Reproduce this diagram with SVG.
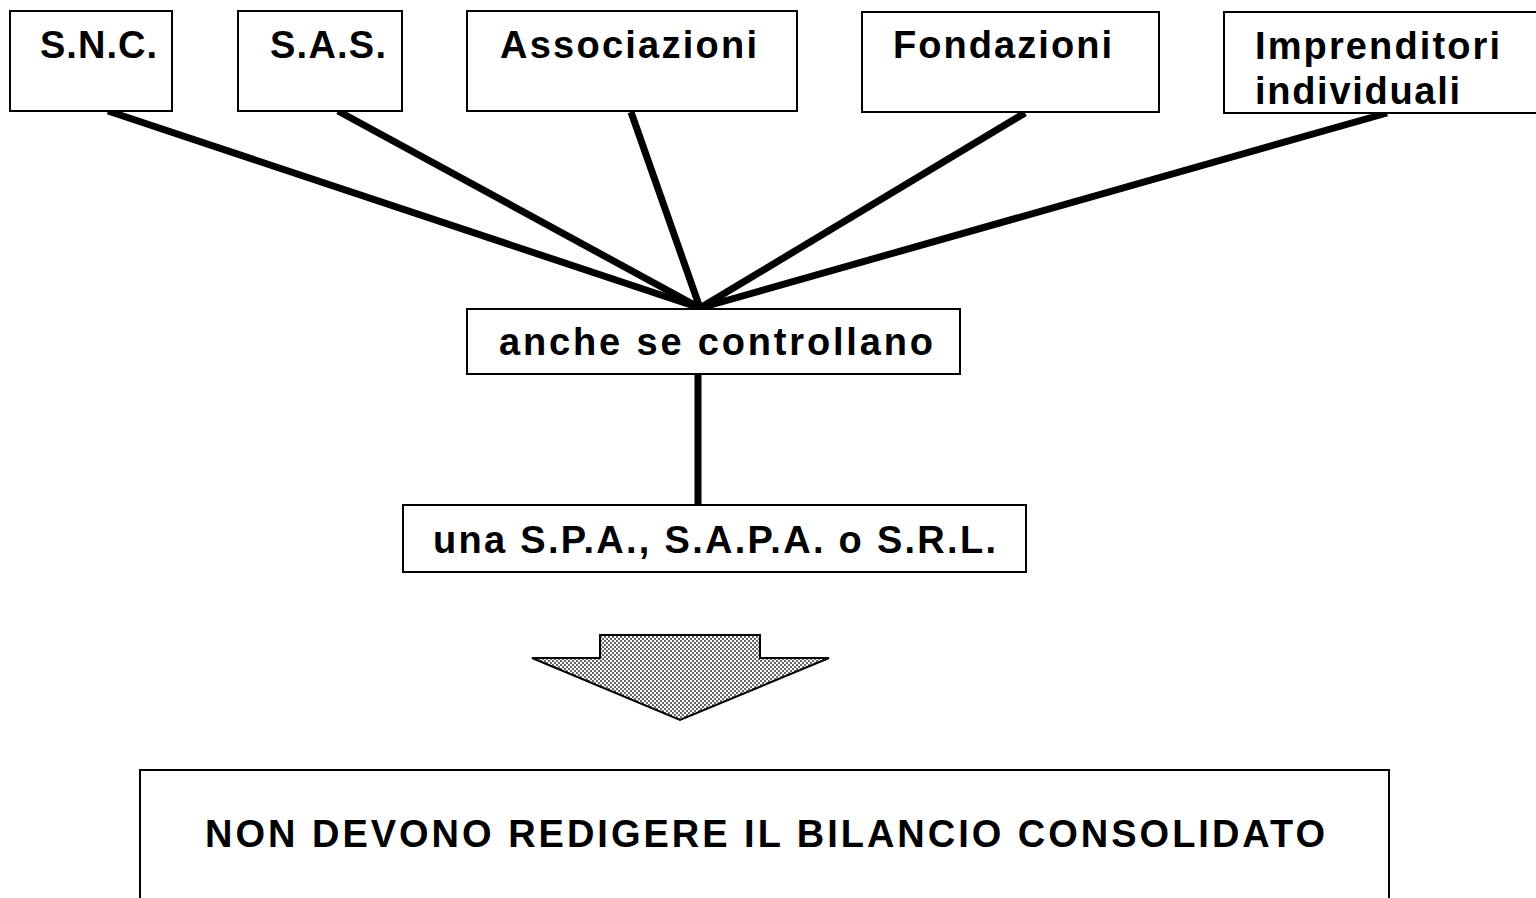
<svg xmlns="http://www.w3.org/2000/svg" width="1536" height="898" viewBox="0 0 1536 898">
<style>
.box{fill:#fff;stroke:#000;stroke-width:2}
.t{font-family:"Liberation Sans",Arial,sans-serif;font-size:38px;font-weight:bold;fill:#000}
.c{stroke:#000;stroke-width:7;stroke-linecap:butt;fill:none}
</style>
<defs>
<pattern id="dots" width="4" height="4" patternUnits="userSpaceOnUse">
<rect width="4" height="4" fill="#fff"/>
<rect x="0" y="0" width="2" height="2" fill="#666"/>
<rect x="2" y="2" width="2" height="2" fill="#666"/>
</pattern>
</defs>
<rect width="1536" height="898" fill="#fff"/>
<g id="connectors">
<line class="c" x1="108" y1="111" x2="700" y2="308"/>
<line class="c" x1="338" y1="111" x2="700" y2="308"/>
<line class="c" x1="631" y1="112" x2="700" y2="308"/>
<line class="c" x1="1025" y1="113" x2="700" y2="308"/>
<line class="c" x1="1387" y1="113" x2="700" y2="308"/>
<line class="c" x1="698" y1="374" x2="698" y2="505"/>
</g>
<g id="snc"><rect class="box" x="10" y="11" width="162" height="100"/><text class="t" x="40" y="58" textLength="117" lengthAdjust="spacing">S.N.C.</text></g>
<g id="sas"><rect class="box" x="238" y="11" width="164" height="100"/><text class="t" x="270" y="58" textLength="116" lengthAdjust="spacing">S.A.S.</text></g>
<g id="associazioni"><rect class="box" x="467" y="11" width="330" height="100"/><text class="t" x="500" y="58" textLength="257" lengthAdjust="spacing">Associazioni</text></g>
<g id="fondazioni"><rect class="box" x="862" y="12" width="297" height="100"/><text class="t" x="893" y="58" textLength="219" lengthAdjust="spacing">Fondazioni</text></g>
<g id="imprenditori"><rect class="box" x="1224" y="12" width="320" height="101"/><text class="t" x="1255" y="59" textLength="245" lengthAdjust="spacing">Imprenditori</text><text class="t" x="1255" y="104" textLength="205" lengthAdjust="spacing">individuali</text></g>
<g id="anche"><rect class="box" x="467" y="309" width="493" height="65"/><text class="t" x="499" y="355" textLength="434" lengthAdjust="spacing">anche se controllano</text></g>
<g id="spa"><rect class="box" x="403" y="505" width="623" height="67"/><text class="t" x="433" y="553" textLength="563" lengthAdjust="spacing">una S.P.A., S.A.P.A. o S.R.L.</text></g>
<g id="arrow"><polygon points="600,635 760,635 760,658 829,658 680,720 532,658 600,658" fill="url(#dots)" stroke="#000" stroke-width="2"/></g>
<g id="result"><rect class="box" x="140" y="770" width="1249" height="140"/><text class="t" x="205" y="847" textLength="1120" lengthAdjust="spacing">NON DEVONO REDIGERE IL BILANCIO CONSOLIDATO</text></g>
</svg>
